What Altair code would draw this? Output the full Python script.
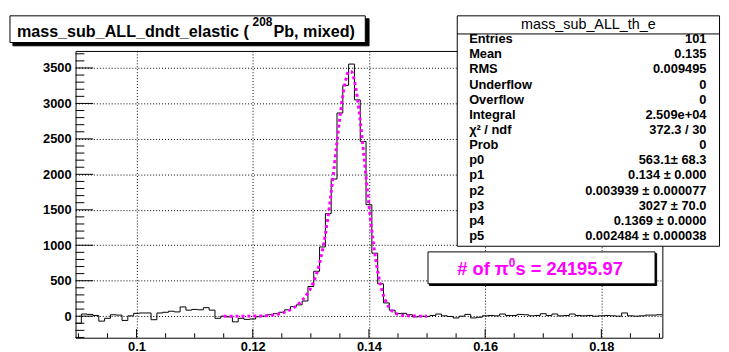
import altair as alt
import pandas as pd

# ---------------- data ----------------
x_low, x_high, n_bins = 0.0895, 0.1905, 101
counts = [
    -100, 30, 25, 10, -70, -30, 20, 15, -60, 5,          # 0.090-0.099
    40, 45, 45, -50, 45, 55, 70, 60, 130, 85,             # 0.100-0.109
    95, 90, 120, 85, -30, 0, -10, -80, -30, -45,          # 0.110-0.119
    -40, -8, 0, 20, 35, 55, 90, 135, 160, 214,            # 0.120-0.129
    418, 633, 976, 1446, 1934, 2865, 3255, 3555, 3050, 2464,  # 0.130-0.139
    1572, 888, 456, 187, 84, 37, 40, 20, -10, 0,          # 0.140-0.149
    -5, 10, 30, 5, -5, -25, 0, 25, -25, -15,              # 0.150-0.159
    5, 10, 5, 30, 10, 10, 25, 20, 5, 10,                  # 0.160-0.169
    35, 10, 30, 5, 10, 30, 10, 5, 10, 0,                  # 0.170-0.179
    5, 10, 5, 0, 45, 5, 0, 5, 15, 15,                     # 0.180-0.189
    20,                                                    # 0.190
]
fit_x = [0.115, 0.116, 0.117, 0.118, 0.119, 0.120, 0.121, 0.122, 0.123, 0.124,
         0.125, 0.126, 0.127, 0.1275, 0.128, 0.1285, 0.129, 0.1295, 0.130, 0.1305,
         0.131, 0.1315, 0.132, 0.1325, 0.133, 0.1335, 0.134, 0.1345, 0.135, 0.1355,
         0.136, 0.1365, 0.137, 0.1375, 0.138, 0.1385, 0.139, 0.1395, 0.140, 0.1405,
         0.141, 0.1415, 0.142, 0.1425, 0.143, 0.1435, 0.144, 0.1445, 0.145, 0.146,
         0.147, 0.148, 0.149, 0.150]
fit_y = [0, 0, 0.05, 0.15, 0.4, 1.0, 2.4, 5.4, 11.4, 22.4,
         41.4, 71.8, 117, 147, 181, 222.5, 271, 329, 400, 489,
         601, 745, 927, 1154, 1428, 1745, 2094, 2457, 2804, 3107,
         3330, 3448, 3446, 3319, 3080, 2753, 2369, 1963, 1566, 1203,
         891, 637, 440, 293, 190, 119, 73, 44, 26, 9,
         3.2, 1.1, 0.4, 0.15]

y_major = [0, 500, 1000, 1500, 2000, 2500, 3000, 3500]
x_major = [0.10, 0.12, 0.14, 0.16, 0.18]

stats_title = "mass_sub_ALL_th_e"
stats_labels = ["Entries", "Mean", "RMS", "Underflow", "Overflow", "Integral",
                "χ² / ndf", "Prob", "p0", "p1", "p2", "p3", "p4", "p5"]
stats_values = ["101", "0.135", "0.009495", "0", "0", "2.509e+04", "372.3 / 30", "0",
                "563.1± 68.3", "0.134 ± 0.000", "0.003939 ± 0.000077", "3027 ± 70.0",
                "0.1369 ± 0.0000", "0.002484 ± 0.000038"]

title_main = "mass_sub_ALL_dndt_elastic ("
title_sup = "208"
title_end = "Pb, mixed)"
npi_a, npi_sup, npi_b = "# of π", "0", "s = 24195.97"

# ---------------- layout ----------------
W, H = 593.4, 290
FONT = "Liberation Sans"
MAG = "#ff00ff"

bw = (x_high - x_low) / n_bins
edges = [x_low + i * bw for i in range(n_bins + 1)]
hist_df = pd.DataFrame({"x": edges, "y": counts + [counts[-1]]})
fit_df = pd.DataFrame({"x": fit_x, "y": fit_y})

y_minor = [v for v in range(-300, 3701, 100) if v not in y_major]
x_minor_all = [round(0.09 + 0.005 * i, 3) for i in range(21)]
x_minor = [v for v in x_minor_all if all(abs(v - m) > 1e-9 for m in x_major)]

xscale = alt.Scale(domain=[x_low, x_high], nice=False, zero=False)
yscale = alt.Scale(domain=[-304, 3740], nice=False, zero=False)

hist = alt.Chart(hist_df).mark_line(interpolate="step-after", color="black", strokeWidth=1).encode(
    x=alt.X("x:Q", scale=xscale, title=None,
            axis=alt.Axis(values=x_major, format=".2~f", grid=True, labelPadding=2.5)),
    y=alt.Y("y:Q", scale=yscale, title=None,
            axis=alt.Axis(values=y_major, format="d", grid=True, labelPadding=4.5)),
)

fit = alt.Chart(fit_df).mark_line(color=MAG, strokeWidth=3, strokeDash=[3, 3],
                                  interpolate="monotone", strokeCap="butt").encode(
    x=alt.X("x:Q", scale=xscale, title=None),
    y=alt.Y("y:Q", scale=yscale, title=None),
)

ytm = alt.Chart(pd.DataFrame({"v": y_major})).mark_rule(color="black", strokeWidth=1).encode(
    y=alt.Y("v:Q", scale=yscale, title=None), x=alt.value(0), x2=alt.value(17.8))
ytn = alt.Chart(pd.DataFrame({"v": y_minor})).mark_rule(color="black", strokeWidth=1).encode(
    y=alt.Y("v:Q", scale=yscale, title=None), x=alt.value(0), x2=alt.value(8.9))
xtm = alt.Chart(pd.DataFrame({"v": x_major})).mark_rule(color="black", strokeWidth=1).encode(
    x=alt.X("v:Q", scale=xscale, title=None), y=alt.value(H), y2=alt.value(H - 8.7))
xtn = alt.Chart(pd.DataFrame({"v": x_minor})).mark_rule(color="black", strokeWidth=1).encode(
    x=alt.X("v:Q", scale=xscale, title=None), y=alt.value(H), y2=alt.value(H - 4.5))

one = pd.DataFrame({"a": [0]})


def box(x0, y0, x1, y1, fill="white", stroke="black", sw=1):
    return alt.Chart(one).mark_rect(fill=fill, stroke=stroke, strokeWidth=sw).encode(
        x=alt.value(x0), x2=alt.value(x1), y=alt.value(y0), y2=alt.value(y1))


def txt(s, x, y, size, weight="bold", color="black", align="left", baseline="alphabetic"):
    return alt.Chart(one).mark_text(text=s, font=FONT, fontSize=size, fontWeight=weight,
                                    color=color, align=align, baseline=baseline).encode(
        x=alt.value(x), y=alt.value(y))


# title box (with shadow)
title_layers = [
    box(-63.3, -32.5, 296.8, -5.2, fill="black", stroke="black"),
    box(-66.3, -35.5, 293.0, -8.5),
    txt(title_main, -59.3, -13.8, 16.3),
    txt(title_sup, 179.0, -24.8, 12),
    txt(title_end, 200.2, -13.8, 16.3),
]

# stats box
rows = pd.DataFrame({
    "label": stats_labels,
    "value": stats_values,
    "ypix": [-11.8 + 15.3 * i for i in range(len(stats_labels))],
})
stats_layers = [
    box(386.0, -35.5, 651.2, 197.5),
    alt.Chart(one).mark_rule(color="black", strokeWidth=1).encode(
        x=alt.value(386.0), x2=alt.value(651.2), y=alt.value(-17.2)),
    txt(stats_title, 518.6, -26.2, 14.5, weight="normal", align="center", baseline="middle"),
    alt.Chart(rows).mark_text(font=FONT, fontSize=13, fontWeight="bold", align="left",
                              baseline="middle", color="black").encode(
        x=alt.value(398.0), y=alt.Y("ypix:Q", scale=None), text="label:N"),
    alt.Chart(rows).mark_text(font=FONT, fontSize=13, fontWeight="bold", align="right",
                              baseline="middle", color="black").encode(
        x=alt.value(638.0), y=alt.Y("ypix:Q", scale=None), text="value:N"),
]

# number of pi0 box
npi_layers = [
    box(358.0, 204.8, 587.6, 237.2, fill="black", stroke="black"),
    box(356.4, 203.2, 586.0, 235.5),
    txt(npi_a, 386.0, 226.5, 18.5, color=MAG),
    txt(npi_sup, 438.0, 218.3, 12, color=MAG),
    txt(npi_b, 445.0, 226.5, 18.5, color=MAG),
]

chart = alt.layer(
    hist, fit, ytm, ytn, xtm, xtn, *title_layers, *stats_layers, *npi_layers
).properties(
    width=W, height=H,
    autosize=alt.AutoSizeParams(type="none"),
    padding={"left": 68.3, "top": 41.5, "right": 59.3, "bottom": 12.5},
    background="white",
).configure_view(
    stroke="black", strokeWidth=1
).configure_axis(
    labelFont=FONT, labelFontSize=13, labelFontWeight="bold", labelColor="black",
    ticks=False, domain=False, grid=True, gridColor="black", gridDash=[1, 2],
    gridOpacity=1, gridWidth=1,
)

chart.save("out.html", embed_options={"renderer": "svg", "actions": False})
